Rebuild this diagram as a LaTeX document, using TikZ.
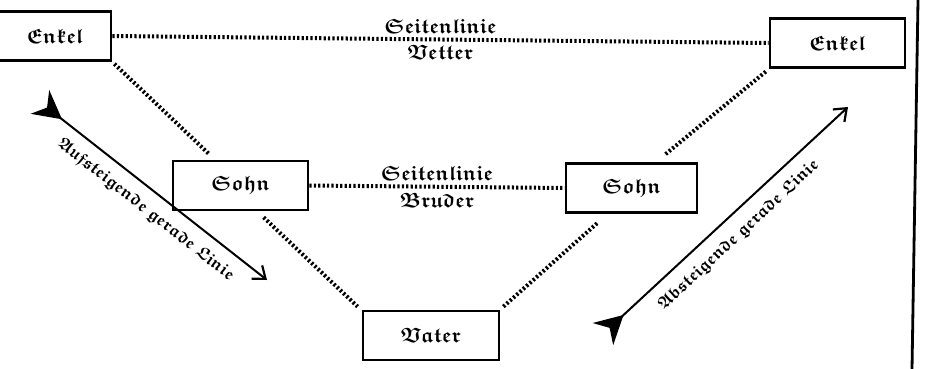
\documentclass[tikz,border=0pt]{standalone}
\usepackage{amsfonts}
\usetikzlibrary{arrows.meta}
\DeclareMathAlphabet{\frakbold}{U}{euf}{b}{n}
\newcommand\fr[1]{$\frakbold{#1}$}
\begin{document}
\begin{tikzpicture}[x=1pt,y=-1pt,
  fk/.style={font=\fontsize{20.74}{24}\selectfont},
  box/.style={draw, line width=2.8pt, minimum width=#1, minimum height=49pt, inner sep=0pt, fk},
  dotline/.style={line width=4pt, dash pattern=on 2.2pt off 2.2pt},
  lab/.style={fk, inner sep=4pt},
  rlab/.style={font=\fontsize{17.28}{20}\selectfont, inner sep=0pt, sloped, below=11pt},
  bigarrow/.style={line width=2pt, {Stealth[reversed,length=28pt,width=30pt,inset=9pt]}-{Straight Barb[length=11pt,width=17pt,line width=2.2pt]}}
]
\useasboundingbox (0,0) rectangle (931,369);
\node[box=112pt] (enkelL) at (55,36) {\fr{Enkel}};
\node[box=135pt] (enkelR) at (837.5,43) {\fr{Enkel}};
\node[box=135pt] (sohnL) at (240.5,185.5) {\fr{Sohn}};
\node[box=131pt] (sohnR) at (631.5,188) {\fr{Sohn}};
\node[box=136pt] (vater) at (431,335.5) {\fr{Vater}};

\draw[dotline] (enkelL.east) -- node[lab,above] {\fr{Seitenlinie}} node[lab,below] {\fr{Vetter}} (enkelR.west);
\draw[dotline] (sohnL.east) -- node[lab,above] {\fr{Seitenlinie}} node[lab,below] {\fr{Bruder}} (sohnR.west);
\draw[dotline] ([shift={(2,2)}]enkelL.south east) -- ([shift={(37,-6)}]sohnL.north west);
\draw[dotline] ([shift={(92,6)}]sohnL.south west) -- ([shift={(-4,-3)}]vater.north west);
\draw[dotline] ([shift={(3,-3)}]vater.north east) -- ([shift={(34,8)}]sohnR.south west);
\draw[dotline] ([shift={(101,-8)}]sohnR.north west) -- ([shift={(-2,2)}]enkelR.south west);

\coordinate (tailL) at (40,102);
\coordinate (headL) at (267,280);
\coordinate (tailR) at (603,334);
\coordinate (headR) at (848,107);
\draw[bigarrow] (tailL) -- node[rlab,pos=0.52] {\fr{Aufsteigende}\ \fr{gerade}\ \fr{Linie}} (headL);
\draw[bigarrow] (tailR) -- node[rlab,pos=0.5] {\fr{Absteigende}\ \fr{gerade}\ \fr{Linie}} (headR);

\coordinate (vtop) at (918,0);
\coordinate (vbot) at (912,369);
\draw[line width=2.8pt] (vtop) -- (vbot);
\end{tikzpicture}
\end{document}
